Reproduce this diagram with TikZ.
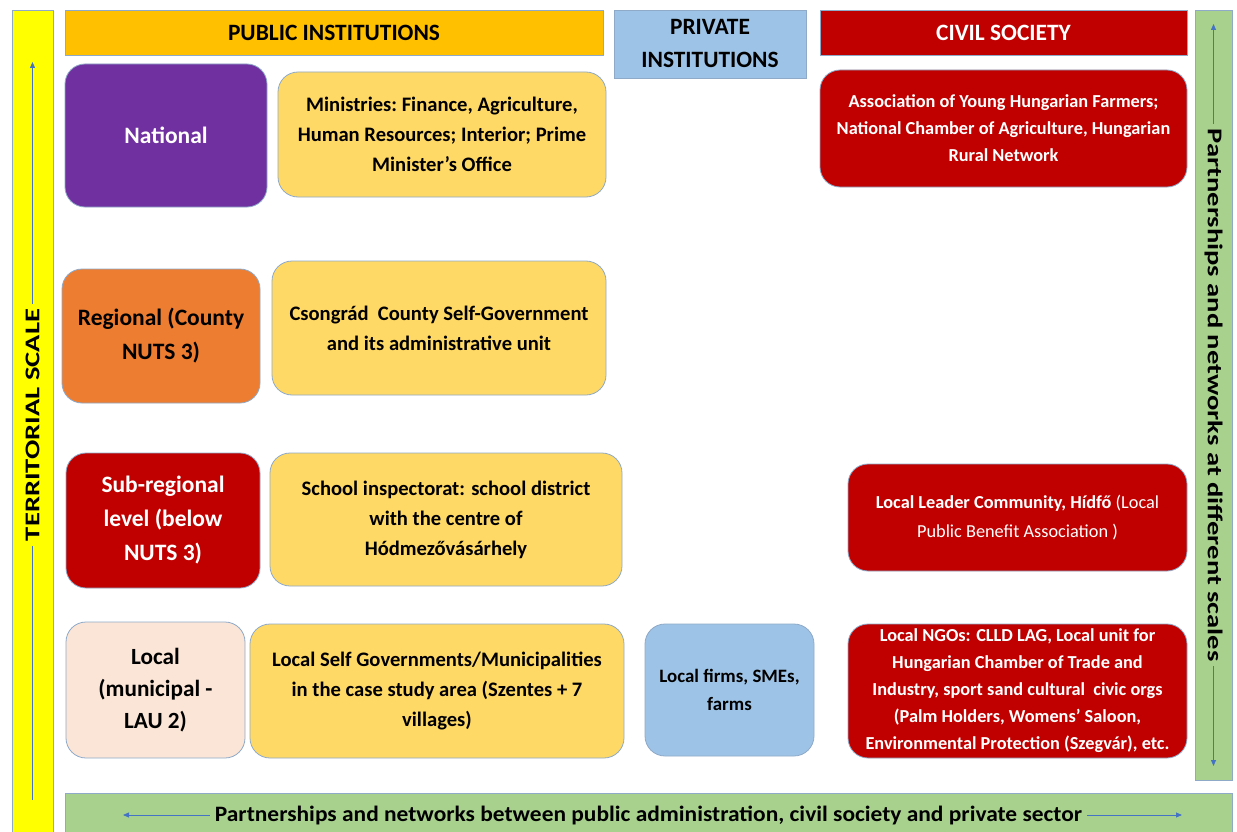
\documentclass[tikz,border=0pt]{standalone}
\usepackage{fontspec}
\setmainfont{Carlito}
\usetikzlibrary{arrows.meta}
\definecolor{hdrorange}{HTML}{FFC000}
\definecolor{hdrblue}{HTML}{9DC3E6}
\definecolor{civred}{HTML}{C00000}
\definecolor{natpurple}{HTML}{7030A0}
\definecolor{regorange}{HTML}{ED7D31}
\definecolor{boxyellow}{HTML}{FFD966}
\definecolor{locpale}{HTML}{FBE5D6}
\definecolor{bargreen}{HTML}{A9D18E}
\definecolor{baryellow}{HTML}{FFFF00}
\definecolor{edgeblue}{HTML}{8FAAC8}
\definecolor{arrowblue}{HTML}{4472C4}
\begin{document}
\begin{tikzpicture}[x=1pt,y=-1pt,
  base/.style={draw=edgeblue, line width=0.8pt, inner sep=2pt, align=center, font=\bfseries\fontsize{20.6}{30}\selectfont},
  hdr/.style={base, rectangle, font=\bfseries\fontsize{23.4}{33}\selectfont},
  rbox/.style={base, rounded corners=20pt},
  lvl/.style={rbox, font=\bfseries\fontsize{23.5}{34}\selectfont},
  civ/.style={rbox, fill=civred, text=white, font=\bfseries\fontsize{18.3}{27}\selectfont},
  bar/.style={draw=edgeblue, line width=0.8pt, inner sep=0pt},
  scalearrow/.style={draw=arrowblue, line width=0.8pt, {Triangle[length=6pt,width=5pt]}-{Triangle[length=6pt,width=5pt]}},
  uparrow/.style={draw=arrowblue, line width=0.8pt, -{Triangle[length=6pt,width=5pt]}}
]
\useasboundingbox (0,0) rectangle (1237,832);
\fill[white] (0,0) rectangle (1237,832);

% side and bottom bars
\node[bar, fill=baryellow, minimum width=41pt, minimum height=840pt] (lbar) at (32.5,430) {};
\node[bar, fill=bargreen, minimum width=37pt, minimum height=770pt] (rbar) at (1213.5,395) {};
\node[bar, fill=bargreen, minimum width=1167pt, minimum height=52pt] (bbar) at (648.5,819) {};

\coordinate (lbot) at (32.5,800);
\coordinate (ltop) at (32.5,62);
\draw[uparrow] (lbot) -- (ltop);
\node[fill=baryellow, inner sep=5pt, rotate=90, font=\bfseries\fontsize{21}{24}\selectfont] (ltext) at (32.5,425) {\scalebox{1.36}[1]{TERRITORIAL SCALE}};

\coordinate (rtop) at (1213.5,24);
\coordinate (rbot) at (1213.5,766);
\draw[scalearrow] (rtop) -- (rbot);
\node[fill=bargreen, inner sep=5pt, rotate=-90, font=\bfseries\fontsize{21}{24}\selectfont] (rtext) at (1213.5,395) {\scalebox{1.36}[1]{Partnerships and networks at different scales}};

\coordinate (bleft) at (123,815);
\coordinate (bright) at (1182,815);
\draw[scalearrow] (bleft) -- (bright);
\node[fill=bargreen, inner sep=5pt, font=\bfseries\fontsize{22}{24}\selectfont] (btext) at (648.5,815) {\scalebox{1.065}[1]{Partnerships and networks between public administration, civil society and private sector}};

% headers
\node[hdr, fill=hdrorange, minimum width=538pt, minimum height=45pt] (pub) at (334,32.5) {PUBLIC INSTITUTIONS};
\node[hdr, fill=hdrblue, minimum width=192pt, minimum height=68pt] (priv) at (710,44) {PRIVATE\\INSTITUTIONS};
\node[hdr, fill=civred, text=white, minimum width=367pt, minimum height=45pt] (civ) at (1003.5,32.5) {CIVIL SOCIETY};

% level boxes
\node[lvl, fill=natpurple, text=white, minimum width=202pt, minimum height=143pt] (nat) at (166,135.5) {National};
\node[lvl, fill=regorange, minimum width=198pt, minimum height=134pt] (reg) at (161,336) {Regional (County\\NUTS 3)};
\node[lvl, fill=civred, text=white, minimum width=194pt, minimum height=135pt] (sub) at (163,520.5) {Sub-regional\\level (below\\NUTS 3)};
\node[lvl, fill=locpale, minimum width=179pt, minimum height=136pt, font=\bfseries\fontsize{23.2}{32}\selectfont] (loc) at (155.5,690) {Local\\(municipal -\\LAU 2)};

% public institution boxes
\node[rbox, fill=boxyellow, minimum width=328pt, minimum height=125pt] (min) at (442,134.5) {Ministries:\ Finance, Agriculture,\\Human Resources; Interior; Prime\\Minister’s Office};
\node[rbox, fill=boxyellow, minimum width=334pt, minimum height=134pt] (cso) at (439,328) {Csongrád\ \ County Self-Government\\and its administrative\ unit};
\node[rbox, fill=boxyellow, minimum width=352pt, minimum height=133pt] (sch) at (446,519.5) {School inspectorat: school district\\with the centre of\\Hódmezővásárhely};
\node[rbox, fill=boxyellow, minimum width=374pt, minimum height=134pt] (lsg) at (437,691) {Local Self Governments/Municipalities\\in the case study area (Szentes + 7\\villages)};

% private
\node[rbox, fill=hdrblue, minimum width=169pt, minimum height=132pt, font=\bfseries\fontsize{18.9}{28}\selectfont] (firm) at (729.5,690) {Local firms, SMEs,\\farms};

% civil society
\node[civ, minimum width=367pt, minimum height=117pt] (ass) at (1003.5,128.5) {Association of Young Hungarian Farmers;\\National Chamber of Agriculture, Hungarian\\Rural Network};
\node[civ, minimum width=339pt, minimum height=107pt, font=\bfseries\fontsize{18.3}{29}\selectfont] (llc) at (1017.5,517.5) {Local Leader Community, Hídfő {\mdseries(Local}\\{\mdseries Public Benefit Association )}};
\node[civ, minimum width=339pt, minimum height=134pt] (ngo) at (1017.5,691) {Local NGOs: CLLD LAG, Local unit for\\Hungarian Chamber of Trade and\\Industry, sport sand cultural\ \ civic orgs\\(Palm Holders, Womens’ Saloon,\\Environmental Protection (Szegvár), etc.};
\end{tikzpicture}
\end{document}
